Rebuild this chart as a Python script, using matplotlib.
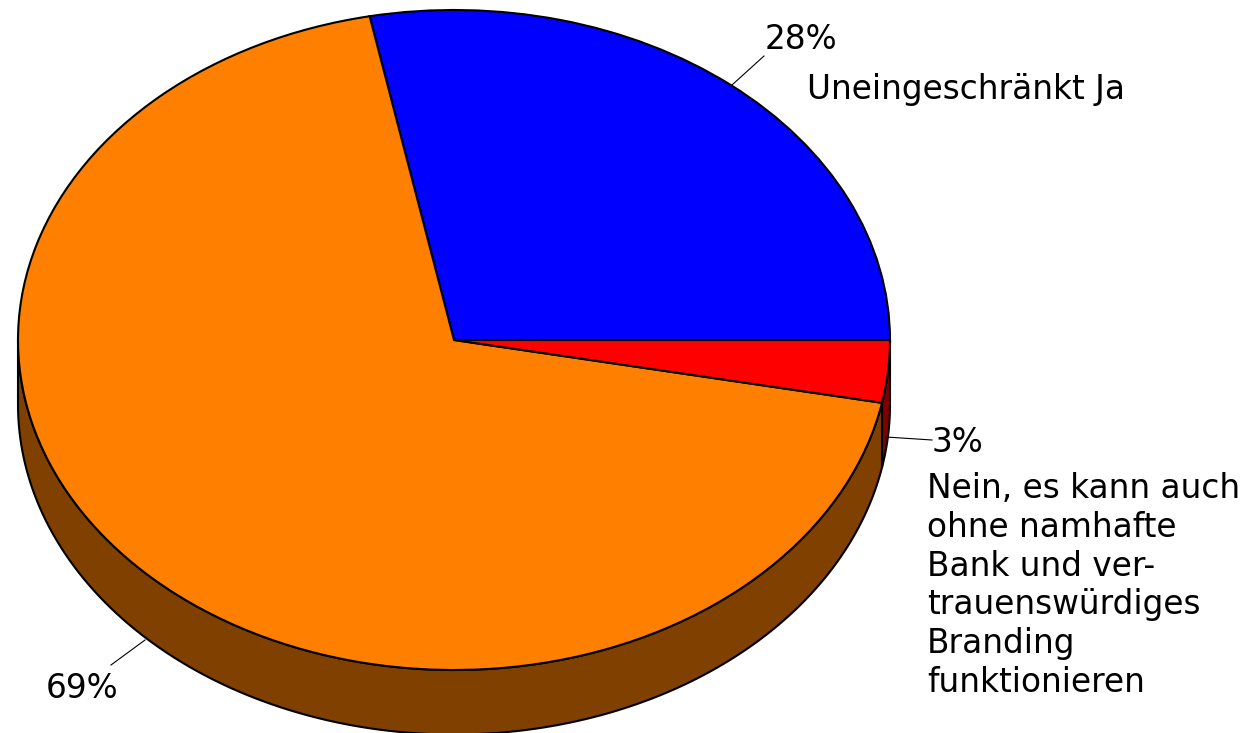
import numpy as np
import matplotlib
matplotlib.use("Agg")
import matplotlib.pyplot as plt

# data
values = [28.1, 68.85, 3.05]
percent_labels = ["28%", "69%", "3%"]
top_colors = ["#0000ff", "#ff8000", "#ff0000"]
side_colors = ["#000080", "#804000", "#800000"]
category_yes = "Uneingeschränkt Ja"
category_no = ["Nein, es kann auch", "ohne namhafte", "Bank und ver-",
               "trauenswürdiges", "Branding", "funktionieren"]

W, H = 1254, 733
CX, CY, RX, RY, DEPTH = 454.0, 340.0, 436.0, 330.0, 64.5
FONT = "DejaVu Sans"
FS = 23.6

fig = plt.figure(figsize=(W / 100, H / 100), dpi=100)
ax = fig.add_axes([0, 0, 1, 1])


def P(px, py):
    return (px - CX) / RX, (CY - py) / RY


d = DEPTH / RY
# side walls: only the part of each slice facing the viewer (angles 180..360)
edges = np.concatenate([[0], np.cumsum(values)]) * 3.6
order = [1, 2]
for i in order:
    a0, a1 = max(edges[i], 180), min(edges[i + 1], 360)
    t = np.radians(np.linspace(a0, a1, 200))
    x, y = np.cos(t), np.sin(t)
    ax.fill(np.r_[x, x[::-1]], np.r_[y, y[::-1] - d], facecolor=side_colors[i],
            edgecolor="black", linewidth=1.5, zorder=1, joinstyle="round")

wedges, _ = ax.pie(values, colors=top_colors, startangle=0, counterclock=True, radius=1,
                   center=(0, 0), frame=True,
                   wedgeprops=dict(edgecolor="black", linewidth=1.5, zorder=2))
ax.set_aspect("auto")
ax.set_xlim(-CX / RX, (W - CX) / RX)
ax.set_ylim((CY - H) / RY, CY / RY)
ax.axis("off")

# leader lines
for (x0, y0), (x1, y1) in [((732, 85), (764, 56)), ((886, 437), (932, 440)), ((145, 640), (111, 665))]:
    (a, b), (c, e) = P(x0, y0), P(x1, y1)
    ax.plot([a, c], [b, e], color="black", lw=0.8, zorder=3)


def label(px, py, s):
    x, y = P(px, py)
    ax.text(x, y, s, family=FONT, fontsize=FS, color="black", ha="left", va="baseline", zorder=4)


label(765, 49, percent_labels[0])
label(46, 698, percent_labels[1])
label(932, 452, percent_labels[2])
label(807, 99, category_yes)
for line, by in zip(category_no, [498, 537, 576, 614, 653, 692]):
    label(927, by, line)

fig.savefig("out.png", dpi=100, facecolor="white")
